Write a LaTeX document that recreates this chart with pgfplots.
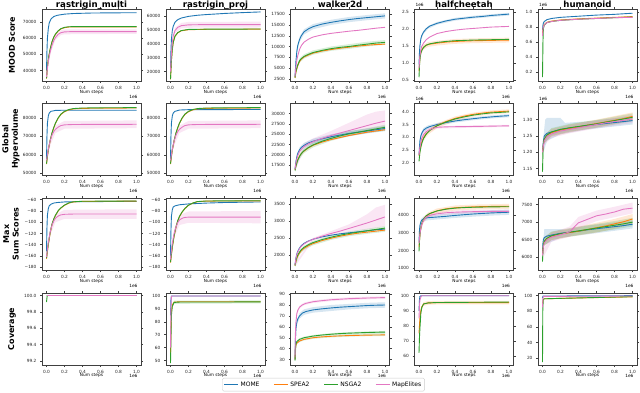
\documentclass[border=0pt]{standalone}
\usepackage{fontspec}
\setmainfont{DejaVu Sans}
\usepackage{pgfplots}
\pgfplotsset{compat=1.18}
\definecolor{cmome}{RGB}{31,119,180}
\definecolor{cspea}{RGB}{255,127,14}
\definecolor{cnsga}{RGB}{44,160,44}
\definecolor{cmap}{RGB}{227,119,194}
\newcommand\tl{\fontsize{4.3}{5}\selectfont}

\pgfplotsset{
  xoffy/.initial=-0.215,
  cell/.style={
    scale only axis, width=99pt, height=72pt, anchor=south west,
    xmin=-0.05, xmax=1.05,
    xtick={0,0.2,0.4,0.6,0.8,1}, xticklabels={0.0,0.2,0.4,0.6,0.8,1.0},
    scaled ticks=false,
    /pgf/number format/1000 sep={},
    /pgf/number format/assume math mode=true,
    tick label style={font=\tl, text=black!85},
    xlabel={Num steps},
    xlabel style={font=\tl, at={(axis description cs:0.5,0)}, anchor=center, yshift=-11.5pt},
    axis line style={black!75, line width=0.6pt},
    tick align=outside, major tick length=2pt,
    tick style={black!75, line width=0.4pt},
    clip mode=individual,
    every axis title shift=0pt,
    title style={font=\bfseries\fontsize{8.6}{9}\selectfont, anchor=base, at={(0.5,1)}, yshift=1.2pt},
    extra description/.code={\node[anchor=east, font=\tl] at (1,\pgfkeysvalueof{/pgfplots/xoffy}) {1e6};},
  },
  lastrow/.style={xoffy=-0.15, xlabel style={yshift=1pt}},
  yoff/.style={extra description/.append code={\node[anchor=west, font=\tl] at (-0.025,1.055) {1e6};}},
  mome/.style={color=cmome, line width=0.9pt},
  spea/.style={color=cspea, line width=0.9pt},
  nsga/.style={color=cnsga, line width=0.9pt},
  mape/.style={color=cmap, line width=0.9pt},
  band/.style={draw=none, fill=#1, fill opacity=0.18, forget plot},
}

\begin{document}
\begin{tikzpicture}
\path[use as bounding box] (0,0) rectangle (640pt,392pt);

% row labels
\node[rotate=90, font=\bfseries\fontsize{8}{9.5}\selectfont, align=center] at (12pt,347pt) {MOOD Score};
\node[rotate=90, font=\bfseries\fontsize{8}{9.5}\selectfont, align=center] at (11pt,253pt) {Global\\Hypervolume};
\node[rotate=90, font=\bfseries\fontsize{8}{9.5}\selectfont, align=center] at (11pt,158pt) {Max\\Sum Scores};
\node[rotate=90, font=\bfseries\fontsize{8}{9.5}\selectfont, align=center] at (12pt,63pt) {Coverage};

%% ================= ROW 1: MOOD Score =================
\begin{axis}[cell, at={(42pt,311pt)}, title={rastrigin\_multi},
  ymin=33500, ymax=78200, ytick={40000,50000,60000,70000}]
\addplot[band=cmap] coordinates {(0,37000)(0.02,46800)(0.05,55000)(0.1,62000)(0.16,65000)(0.2,65500)(1,65600)
  (1,62800)(0.2,62500)(0.16,62000)(0.1,59000)(0.05,51500)(0.02,44200)(0,35000)};
\addplot[mome] coordinates {(0,40000)(0.005,52000)(0.01,60000)(0.02,66000)(0.03,69500)(0.05,72000)(0.08,73500)(0.12,74300)(0.2,75000)(0.3,75400)(0.5,75700)(0.7,75800)(1,75900)};
\addplot[spea] coordinates {(0,35000)(0.01,42000)(0.02,47000)(0.04,53000)(0.06,57500)(0.08,60500)(0.1,62500)(0.13,64500)(0.16,65800)(0.2,66600)(0.25,67000)(0.4,67100)(1,67100)};
\addplot[nsga] coordinates {(0,35200)(0.01,42200)(0.02,47200)(0.04,53200)(0.06,57700)(0.08,60700)(0.1,62700)(0.13,64700)(0.16,66000)(0.2,66800)(0.25,67200)(0.4,67300)(1,67300)};
\addplot[mape] coordinates {(0,36000)(0.01,41000)(0.02,45500)(0.04,51500)(0.06,55500)(0.08,58500)(0.1,60500)(0.13,62500)(0.16,63500)(0.2,64000)(0.3,64200)(1,64200)};
\end{axis}

\begin{axis}[cell, at={(166pt,311pt)}, title={rastrigin\_proj},
  ymin=13200, ymax=65000, ytick={20000,30000,40000,50000,60000}]
\addplot[band=cmap] coordinates {(0,21000)(0.02,42500)(0.05,51500)(0.12,55000)(0.2,55700)(1,55900)
  (1,51700)(0.2,51500)(0.12,51000)(0.05,47500)(0.02,39500)(0,19000)};
\addplot[mome] coordinates {(0,21000)(0.005,35000)(0.01,43000)(0.02,49500)(0.03,52500)(0.05,55500)(0.08,57300)(0.12,58500)(0.2,59700)(0.3,60500)(0.4,61000)(0.6,61800)(0.8,62400)(1,62900)};
\addplot[spea] coordinates {(0,14300)(0.01,27800)(0.02,35800)(0.03,40800)(0.05,45300)(0.08,47800)(0.12,49300)(0.2,50100)(0.4,50400)(1,50500)};
\addplot[nsga] coordinates {(0,14500)(0.01,28000)(0.02,36000)(0.03,41000)(0.05,45500)(0.08,48000)(0.12,49500)(0.2,50300)(0.4,50500)(1,50600)};
\addplot[mape] coordinates {(0,20000)(0.01,33000)(0.02,41000)(0.03,45500)(0.05,49500)(0.08,51800)(0.12,53000)(0.2,53600)(0.4,53800)(1,53800)};
\end{axis}

\begin{axis}[cell, at={(290.5pt,311pt)}, title={walker2d},
  ymin=2000, ymax=18700, ytick={2500,5000,7500,10000,12500,15000,17500}]
\addplot[band=cmome] coordinates {(0,3200)(0.02,9400)(0.05,12200)(0.1,14000)(0.2,15200)(0.4,16200)(0.6,16850)(0.8,17300)(1,17700)
  (1,16500)(0.8,16100)(0.6,15650)(0.4,15000)(0.2,14000)(0.1,12800)(0.05,11000)(0.02,8200)(0,2800)};
\addplot[band=cnsga] coordinates {(0,3000)(0.02,5400)(0.05,7200)(0.1,8200)(0.2,9100)(0.4,10000)(0.6,10550)(0.8,11100)(1,11500)
  (1,10400)(0.8,10000)(0.6,9450)(0.4,9000)(0.2,8100)(0.1,7200)(0.05,6200)(0.02,4600)(0,2600)};
\addplot[mome] coordinates {(0,3000)(0.01,6500)(0.02,8800)(0.03,10200)(0.05,11600)(0.07,12500)(0.1,13400)(0.15,14100)(0.2,14600)(0.3,15200)(0.4,15600)(0.5,15950)(0.6,16250)(0.7,16500)(0.8,16700)(0.9,16900)(1,17100)};
\addplot[spea] coordinates {(0,2700)(0.01,4000)(0.02,4800)(0.03,5500)(0.05,6500)(0.07,7050)(0.1,7550)(0.15,8050)(0.2,8450)(0.3,8950)(0.4,9300)(0.5,9600)(0.6,9850)(0.7,10100)(0.8,10300)(0.9,10450)(1,10550)};
\addplot[nsga] coordinates {(0,2800)(0.01,4200)(0.02,5000)(0.03,5700)(0.05,6700)(0.07,7200)(0.1,7700)(0.15,8200)(0.2,8600)(0.3,9100)(0.4,9500)(0.5,9800)(0.6,10000)(0.7,10300)(0.8,10550)(0.9,10800)(1,10950)};
\addplot[mape] coordinates {(0,3000)(0.01,5300)(0.02,6800)(0.03,7800)(0.05,9300)(0.07,10200)(0.1,11000)(0.15,11700)(0.2,12200)(0.3,12700)(0.4,13050)(0.5,13300)(0.6,13550)(0.7,13750)(0.8,14000)(0.9,14250)(1,14450)};
\end{axis}

\begin{axis}[cell, yoff, at={(414.5pt,311pt)}, title={halfcheetah},
  ymin=0.47, ymax=2.58, ytick={0.5,1,1.5,2,2.5}, yticklabels={0.5,1.0,1.5,2.0,2.5}]
\addplot[band=cmome] coordinates {(0,1.0)(0.02,1.75)(0.05,1.95)(0.1,2.08)(0.2,2.2)(0.4,2.32)(0.6,2.38)(1,2.47)
  (1,2.39)(0.6,2.30)(0.4,2.24)(0.2,2.12)(0.1,2.0)(0.05,1.85)(0.02,1.65)(0,0.9)};
\addplot[band=cspea] coordinates {(0,0.8)(0.02,1.36)(0.05,1.53)(0.1,1.61)(0.2,1.65)(0.4,1.70)(0.6,1.72)(1,1.74)
  (1,1.60)(0.6,1.58)(0.4,1.56)(0.2,1.51)(0.1,1.47)(0.05,1.39)(0.02,1.24)(0,0.7)};
\addplot[mome] coordinates {(0,0.95)(0.005,1.3)(0.01,1.5)(0.02,1.7)(0.03,1.8)(0.05,1.9)(0.08,2.0)(0.12,2.08)(0.2,2.16)(0.3,2.23)(0.4,2.28)(0.5,2.31)(0.6,2.34)(0.7,2.36)(0.8,2.39)(0.9,2.41)(1,2.43)};
\addplot[spea] coordinates {(0,0.75)(0.01,1.15)(0.02,1.3)(0.03,1.38)(0.05,1.46)(0.08,1.52)(0.12,1.55)(0.2,1.58)(0.3,1.61)(0.4,1.63)(0.6,1.65)(0.8,1.66)(1,1.67)};
\addplot[nsga] coordinates {(0,0.58)(0.005,0.9)(0.01,1.1)(0.02,1.28)(0.03,1.36)(0.05,1.45)(0.08,1.52)(0.12,1.56)(0.2,1.6)(0.3,1.63)(0.4,1.65)(0.6,1.67)(0.8,1.68)(1,1.69)};
\addplot[mape] coordinates {(0,0.85)(0.01,1.2)(0.02,1.38)(0.03,1.48)(0.05,1.58)(0.08,1.68)(0.12,1.76)(0.2,1.86)(0.3,1.92)(0.4,1.96)(0.5,1.99)(0.6,2.01)(0.7,2.03)(0.8,2.05)(0.9,2.06)(1,2.07)};
\end{axis}

\begin{axis}[cell, yoff, at={(538pt,311pt)}, title={humanoid},
  ymin=0.079, ymax=1.036, ytick={0.2,0.4,0.6,0.8,1}, yticklabels={0.2,0.4,0.6,0.8,1.0}]
\addplot[mome] coordinates {(0,0.76)(0.005,0.82)(0.01,0.85)(0.02,0.87)(0.05,0.895)(0.1,0.91)(0.2,0.925)(0.4,0.94)(0.6,0.955)(0.8,0.965)(1,0.98)};
\addplot[spea] coordinates {(0,0.72)(0.01,0.8)(0.02,0.83)(0.05,0.86)(0.1,0.875)(0.2,0.89)(0.4,0.905)(0.6,0.915)(0.8,0.925)(1,0.935)};
\addplot[nsga] coordinates {(0,0.13)(0.005,0.6)(0.01,0.78)(0.02,0.82)(0.05,0.855)(0.1,0.87)(0.2,0.885)(0.4,0.9)(0.6,0.91)(0.8,0.92)(1,0.93)};
\addplot[mape] coordinates {(0,0.68)(0.005,0.76)(0.01,0.8)(0.02,0.825)(0.05,0.855)(0.1,0.87)(0.2,0.885)(0.4,0.9)(0.6,0.91)(0.8,0.92)(1,0.925)};
\end{axis}

%% ================= ROW 2: Global Hypervolume =================
\begin{axis}[cell, at={(42pt,217pt)},
  ymin=49100, ymax=88000, ytick={50000,60000,70000,80000}]
\addplot[band=cmap] coordinates {(0,58500)(0.02,64500)(0.05,70000)(0.1,75800)(0.2,78300)(1,78600)
  (1,74400)(0.2,74100)(0.1,71800)(0.05,66000)(0.02,61500)(0,55500)};
\addplot[mome] coordinates {(0,57000)(0.005,70000)(0.01,77000)(0.02,81000)(0.03,82500)(0.05,83500)(0.1,84000)(0.2,84100)(1,84100)};
\addplot[spea] coordinates {(0,55000)(0.01,59000)(0.02,62500)(0.04,67500)(0.06,71500)(0.08,74500)(0.1,77000)(0.13,79800)(0.16,81800)(0.2,83300)(0.25,84300)(0.3,84800)(0.4,85100)(0.6,85200)(1,85300)};
\addplot[nsga] coordinates {(0,55200)(0.01,59200)(0.02,62700)(0.04,67700)(0.06,71700)(0.08,74700)(0.1,77200)(0.13,80000)(0.16,82000)(0.2,83500)(0.25,84500)(0.3,85000)(0.4,85300)(0.6,85400)(1,85500)};
\addplot[mape] coordinates {(0,57000)(0.01,60000)(0.02,63000)(0.04,67500)(0.06,70500)(0.08,72500)(0.1,73800)(0.13,75000)(0.16,75800)(0.2,76200)(0.3,76400)(1,76500)};
\end{axis}

\begin{axis}[cell, at={(166pt,217pt)},
  ymin=49100, ymax=88000, ytick={50000,60000,70000,80000}]
\addplot[band=cmap] coordinates {(0,58500)(0.02,64500)(0.05,70000)(0.1,75800)(0.2,78300)(1,78600)
  (1,74400)(0.2,74100)(0.1,71800)(0.05,66000)(0.02,61500)(0,55500)};
\addplot[mome] coordinates {(0,57000)(0.005,70000)(0.01,77000)(0.02,81000)(0.03,82500)(0.05,83500)(0.1,84200)(0.2,84400)(1,84500)};
\addplot[spea] coordinates {(0,55000)(0.01,59000)(0.02,62500)(0.04,67500)(0.06,71500)(0.08,74500)(0.1,77000)(0.13,79800)(0.16,81800)(0.2,83300)(0.25,84300)(0.3,84800)(0.4,85100)(0.6,85200)(1,85300)};
\addplot[nsga] coordinates {(0,55200)(0.01,59200)(0.02,62700)(0.04,67700)(0.06,71700)(0.08,74700)(0.1,77200)(0.13,80000)(0.16,82000)(0.2,83500)(0.25,84500)(0.3,85000)(0.4,85300)(0.6,85400)(1,85500)};
\addplot[mape] coordinates {(0,57000)(0.01,60000)(0.02,63000)(0.04,67500)(0.06,70500)(0.08,72500)(0.1,73800)(0.13,75000)(0.16,75800)(0.2,76200)(0.3,76400)(1,76500)};
\end{axis}

\begin{axis}[cell, at={(290.5pt,217pt)},
  ymin=15100, ymax=32600, ytick={17500,20000,22500,25000,27500,30000}]
\addplot[band=cmap] coordinates {(0,17000)(0.1,22800)(0.2,24000)(0.4,25800)(0.6,27800)(0.8,29800)(0.9,30500)(1,30800)
  (1,26000)(0.8,25300)(0.6,24500)(0.4,23700)(0.2,22400)(0.1,21200)(0,16000)};
\addplot[band=cmome] coordinates {(0,16900)(0.02,20100)(0.05,21800)(0.1,22900)(0.2,23900)(0.4,25000)(0.6,25800)(0.8,26400)(1,27000)
  (1,25800)(0.8,25200)(0.6,24600)(0.4,23800)(0.2,22700)(0.1,21700)(0.05,20600)(0.02,18900)(0,16100)};
\addplot[band=cnsga] coordinates {(0,16600)(0.02,18600)(0.05,20200)(0.1,21600)(0.2,23000)(0.4,24600)(0.6,25700)(0.8,26500)(1,27300)
  (1,25800)(0.8,25300)(0.6,24500)(0.4,23400)(0.2,21800)(0.1,20400)(0.05,19000)(0.02,17400)(0,15800)};
\addplot[mome] coordinates {(0,16500)(0.01,18300)(0.02,19500)(0.03,20300)(0.05,21200)(0.07,21800)(0.1,22300)(0.15,22900)(0.2,23300)(0.3,23900)(0.4,24400)(0.5,24800)(0.6,25200)(0.7,25500)(0.8,25800)(0.9,26100)(1,26400)};
\addplot[spea] coordinates {(0,16300)(0.01,17300)(0.02,18100)(0.03,18800)(0.05,19700)(0.07,20300)(0.1,20900)(0.15,21700)(0.2,22300)(0.3,23100)(0.4,23700)(0.5,24200)(0.6,24700)(0.7,25100)(0.8,25500)(0.9,25800)(1,26100)};
\addplot[nsga] coordinates {(0,16200)(0.01,17200)(0.02,18000)(0.03,18700)(0.05,19600)(0.07,20300)(0.1,21000)(0.15,21800)(0.2,22400)(0.3,23300)(0.4,24000)(0.5,24600)(0.6,25100)(0.7,25500)(0.8,25900)(0.9,26300)(1,26700)};
\addplot[mape] coordinates {(0,16500)(0.01,18000)(0.02,19000)(0.03,19800)(0.05,20800)(0.07,21400)(0.1,22000)(0.15,22700)(0.2,23200)(0.3,24000)(0.4,24700)(0.5,25300)(0.6,25900)(0.7,26500)(0.8,27100)(0.9,27700)(1,28200)};
\end{axis}

\begin{axis}[cell, yoff, at={(414.5pt,217pt)},
  ymin=1.51, ymax=4.35, ytick={2,2.5,3,3.5,4}, yticklabels={2.0,2.5,3.0,3.5,4.0}]
\addplot[band=cmap] coordinates {(0,2.45)(0.02,3.0)(0.05,3.25)(0.1,3.37)(0.2,3.44)(1,3.49)
  (1,3.41)(0.2,3.34)(0.1,3.2)(0.05,2.95)(0.02,2.6)(0,2.15)};
\addplot[band=cmome] coordinates {(0,2.4)(0.02,3.15)(0.05,3.36)(0.1,3.47)(0.2,3.56)(0.4,3.7)(0.6,3.79)(0.8,3.86)(1,3.91)
  (1,3.79)(0.8,3.74)(0.6,3.67)(0.4,3.58)(0.2,3.44)(0.1,3.33)(0.05,3.2)(0.02,2.95)(0,2.2)};
\addplot[band=cspea] coordinates {(0,2.35)(0.02,2.76)(0.05,3.06)(0.1,3.3)(0.2,3.54)(0.4,3.82)(0.6,3.97)(0.8,4.06)(1,4.1)
  (1,3.95)(0.8,3.9)(0.6,3.81)(0.4,3.64)(0.2,3.36)(0.1,3.1)(0.05,2.86)(0.02,2.5)(0,1.95)};
\addplot[mome] coordinates {(0,2.3)(0.005,2.6)(0.01,2.85)(0.02,3.05)(0.03,3.15)(0.05,3.28)(0.08,3.36)(0.12,3.42)(0.2,3.5)(0.3,3.58)(0.4,3.64)(0.5,3.69)(0.6,3.73)(0.7,3.77)(0.8,3.8)(0.9,3.83)(1,3.85)};
\addplot[spea] coordinates {(0,2.25)(0.01,2.5)(0.02,2.68)(0.03,2.8)(0.05,2.98)(0.08,3.14)(0.12,3.28)(0.2,3.46)(0.3,3.62)(0.4,3.74)(0.5,3.83)(0.6,3.9)(0.7,3.95)(0.8,3.99)(0.9,4.01)(1,4.03)};
\addplot[nsga] coordinates {(0,2.05)(0.01,2.4)(0.02,2.6)(0.03,2.75)(0.05,2.95)(0.08,3.12)(0.12,3.27)(0.2,3.45)(0.3,3.6)(0.4,3.72)(0.5,3.8)(0.6,3.87)(0.7,3.92)(0.8,3.96)(0.9,3.98)(1,4.0)};
\addplot[mape] coordinates {(0,2.3)(0.01,2.6)(0.02,2.8)(0.03,2.95)(0.05,3.1)(0.08,3.22)(0.12,3.3)(0.16,3.36)(0.2,3.39)(0.3,3.41)(0.5,3.42)(0.7,3.43)(1,3.45)};
\end{axis}

\begin{axis}[cell, yoff, at={(538pt,217pt)},
  ymin=1.13, ymax=1.351, ytick={1.15,1.2,1.25,1.3}, yticklabels={1.15,1.20,1.25,1.30}]
\addplot[band=cmome] coordinates {(0,1.22)(0.03,1.3)(0.05,1.305)(0.2,1.305)(0.25,1.29)(0.5,1.295)(1,1.31)
  (1,1.285)(0.5,1.27)(0.2,1.255)(0.05,1.235)(0,1.19)};
\addplot[band=cspea] coordinates {(0,1.21)(0.02,1.252)(0.1,1.272)(0.3,1.285)(0.6,1.3)(1,1.322)
  (1,1.298)(0.6,1.276)(0.3,1.261)(0.1,1.248)(0.02,1.228)(0,1.19)};
\addplot[band=cnsga] coordinates {(0,1.15)(0.02,1.252)(0.1,1.274)(0.3,1.287)(0.6,1.299)(1,1.319)
  (1,1.295)(0.6,1.275)(0.3,1.263)(0.1,1.25)(0.02,1.228)(0,1.135)};
\addplot[band=cmap] coordinates {(0,1.21)(0.02,1.247)(0.1,1.268)(0.3,1.282)(0.6,1.297)(1,1.314)
  (1,1.29)(0.6,1.273)(0.3,1.258)(0.1,1.244)(0.02,1.223)(0,1.19)};
\addplot[mome] coordinates {(0,1.205)(0.005,1.22)(0.01,1.235)(0.02,1.25)(0.05,1.258)(0.1,1.262)(0.2,1.27)(0.3,1.274)(0.4,1.278)(0.5,1.282)(0.6,1.285)(0.7,1.288)(0.8,1.291)(0.9,1.294)(1,1.297)};
\addplot[spea] coordinates {(0,1.2)(0.01,1.225)(0.02,1.24)(0.05,1.252)(0.1,1.26)(0.2,1.268)(0.3,1.273)(0.4,1.278)(0.5,1.283)(0.6,1.288)(0.7,1.293)(0.8,1.298)(0.9,1.303)(1,1.31)};
\addplot[nsga] coordinates {(0,1.14)(0.005,1.2)(0.01,1.225)(0.02,1.24)(0.05,1.253)(0.1,1.262)(0.2,1.27)(0.3,1.275)(0.4,1.279)(0.5,1.283)(0.6,1.287)(0.7,1.292)(0.8,1.297)(0.9,1.302)(1,1.307)};
\addplot[mape] coordinates {(0,1.2)(0.01,1.22)(0.02,1.235)(0.05,1.248)(0.1,1.256)(0.2,1.265)(0.3,1.27)(0.4,1.275)(0.5,1.28)(0.6,1.285)(0.7,1.29)(0.8,1.294)(0.9,1.298)(1,1.302)};
\end{axis}

%% ================= ROW 3: Max Sum Scores =================
\begin{axis}[cell, at={(42pt,122pt)},
  ymin=-185, ymax=-57, ytick={-180,-160,-140,-120,-100,-80,-60},
  yticklabels={−180,−160,−140,−120,−100,−80,−60}]
\addplot[band=cmap] coordinates {(0,-158)(0.04,-112)(0.1,-86)(0.2,-78)(1,-77)
  (1,-94)(0.2,-94)(0.1,-100)(0.04,-124)(0,-166)};
\addplot[mome] coordinates {(0,-152)(0.005,-110)(0.01,-88)(0.02,-76)(0.03,-71)(0.05,-68)(0.08,-66)(0.12,-65)(0.2,-64)(0.4,-63.5)(1,-63)};
\addplot[spea] coordinates {(0,-165)(0.01,-152)(0.02,-140)(0.04,-120)(0.06,-105)(0.08,-95)(0.1,-88)(0.13,-80)(0.16,-75)(0.2,-70)(0.25,-66)(0.3,-64)(0.4,-63)(1,-62.5)};
\addplot[nsga] coordinates {(0,-164)(0.01,-151)(0.02,-139)(0.04,-119)(0.06,-104)(0.08,-94.5)(0.1,-87.5)(0.13,-79.5)(0.16,-74.5)(0.2,-69.5)(0.25,-65.5)(0.3,-63.7)(0.4,-62.8)(1,-62.3)};
\addplot[mape] coordinates {(0,-162)(0.01,-148)(0.02,-136)(0.04,-118)(0.06,-106)(0.08,-98)(0.1,-93)(0.13,-89)(0.16,-87)(0.2,-86)(0.3,-85.5)(1,-85.5)};
\end{axis}

\begin{axis}[cell, at={(166pt,122pt)},
  ymin=-185, ymax=-57, ytick={-180,-160,-140,-120,-100,-80,-60},
  yticklabels={−180,−160,−140,−120,−100,−80,−60}]
\addplot[band=cmap] coordinates {(0,-160)(0.04,-113)(0.1,-87)(0.2,-81)(1,-80)
  (1,-102)(0.2,-101)(0.1,-105)(0.04,-127)(0,-172)};
\addplot[mome] coordinates {(0,-160)(0.005,-115)(0.01,-90)(0.02,-78)(0.03,-73)(0.05,-71)(0.1,-69)(0.2,-67.5)(0.4,-66)(0.6,-65)(1,-64)};
\addplot[spea] coordinates {(0,-172)(0.01,-158)(0.02,-145)(0.04,-125)(0.06,-110)(0.08,-98)(0.1,-90)(0.13,-82)(0.16,-76)(0.2,-70)(0.25,-66)(0.3,-63.5)(0.4,-62.5)(1,-62)};
\addplot[nsga] coordinates {(0,-171)(0.01,-157)(0.02,-144)(0.04,-124)(0.06,-109)(0.08,-97.5)(0.1,-89.5)(0.13,-81.5)(0.16,-75.5)(0.2,-69.7)(0.25,-65.8)(0.3,-63.3)(0.4,-62.3)(1,-61.8)};
\addplot[mape] coordinates {(0,-166)(0.01,-150)(0.02,-138)(0.04,-120)(0.06,-109)(0.08,-101)(0.1,-96)(0.13,-93)(0.16,-91.5)(0.2,-91)(1,-91)};
\end{axis}

\begin{axis}[cell, at={(290.5pt,122pt)},
  ymin=1550, ymax=3680, ytick={2000,2500,3000,3500}]
\addplot[band=cmap] coordinates {(0,1750)(0.2,2500)(0.4,2700)(0.6,2900)(0.8,3200)(0.9,3400)(1,3480)
  (1,2850)(0.8,2750)(0.6,2680)(0.4,2560)(0.2,2420)(0,1650)};
\addplot[band=cnsga] coordinates {(0,1720)(0.05,2130)(0.1,2270)(0.2,2410)(0.4,2570)(0.6,2690)(0.8,2770)(1,2850)
  (1,2680)(0.8,2620)(0.6,2550)(0.4,2440)(0.2,2280)(0.1,2140)(0.05,2000)(0,1640)};
\addplot[mome] coordinates {(0,1700)(0.01,1900)(0.02,2020)(0.03,2100)(0.05,2200)(0.07,2270)(0.1,2340)(0.15,2410)(0.2,2460)(0.3,2530)(0.4,2580)(0.5,2620)(0.6,2650)(0.7,2680)(0.8,2710)(0.9,2740)(1,2760)};
\addplot[spea] coordinates {(0,1680)(0.01,1800)(0.02,1890)(0.03,1960)(0.05,2050)(0.07,2120)(0.1,2190)(0.15,2270)(0.2,2330)(0.3,2420)(0.4,2490)(0.5,2550)(0.6,2600)(0.7,2640)(0.8,2670)(0.9,2700)(1,2730)};
\addplot[nsga] coordinates {(0,1680)(0.01,1820)(0.02,1920)(0.03,1990)(0.05,2080)(0.07,2150)(0.1,2220)(0.15,2300)(0.2,2360)(0.3,2450)(0.4,2520)(0.5,2580)(0.6,2630)(0.7,2670)(0.8,2710)(0.9,2750)(1,2790)};
\addplot[mape] coordinates {(0,1700)(0.01,1880)(0.02,2000)(0.03,2080)(0.05,2180)(0.07,2250)(0.1,2320)(0.15,2400)(0.2,2460)(0.3,2550)(0.4,2630)(0.5,2700)(0.6,2780)(0.7,2860)(0.8,2940)(0.9,3030)(1,3120)};
\end{axis}

\begin{axis}[cell, at={(414.5pt,122pt)},
  ymin=900, ymax=4950, ytick={1000,2000,3000,4000}]
\addplot[band=cmome] coordinates {(0,2700)(0.02,3750)(0.05,3900)(0.1,3980)(0.2,4020)(0.4,4110)(0.6,4200)(0.8,4260)(1,4300)
  (1,4000)(0.8,3960)(0.6,3900)(0.4,3830)(0.2,3740)(0.1,3700)(0.05,3650)(0.02,3450)(0,2300)};
\addplot[band=cspea] coordinates {(0,2300)(0.02,3400)(0.05,3880)(0.1,4130)(0.2,4360)(0.4,4530)(0.6,4580)(0.8,4600)(1,4620)
  (1,4340)(0.8,4320)(0.6,4300)(0.4,4250)(0.2,4080)(0.1,3870)(0.05,3580)(0.02,3100)(0,1850)};
\addplot[band=cmap] coordinates {(0,2550)(0.02,3400)(0.05,3850)(0.1,4080)(0.2,4160)(0.4,4250)(0.6,4280)(1,4300)
  (1,4100)(0.6,4080)(0.4,4050)(0.2,3960)(0.1,3850)(0.05,3550)(0.02,3100)(0,2250)};
\addplot[mome] coordinates {(0,2500)(0.005,3100)(0.01,3400)(0.02,3600)(0.03,3700)(0.05,3780)(0.08,3830)(0.12,3850)(0.2,3880)(0.3,3920)(0.4,3970)(0.5,4010)(0.6,4050)(0.7,4080)(0.8,4110)(0.9,4130)(1,4150)};
\addplot[spea] coordinates {(0,2200)(0.01,2900)(0.02,3250)(0.03,3480)(0.05,3730)(0.08,3930)(0.12,4070)(0.2,4230)(0.3,4340)(0.4,4400)(0.5,4430)(0.6,4450)(0.7,4465)(0.8,4475)(0.9,4480)(1,4485)};
\addplot[nsga] coordinates {(0,1950)(0.005,2500)(0.01,2850)(0.02,3250)(0.03,3500)(0.05,3750)(0.08,3950)(0.12,4080)(0.2,4220)(0.3,4320)(0.4,4380)(0.5,4410)(0.6,4430)(0.7,4440)(0.8,4450)(0.9,4455)(1,4460)};
\addplot[mape] coordinates {(0,2400)(0.01,2900)(0.02,3250)(0.03,3450)(0.05,3700)(0.08,3880)(0.12,3980)(0.2,4060)(0.3,4120)(0.4,4150)(0.5,4170)(0.6,4180)(0.8,4195)(1,4200)};
\end{axis}

\begin{axis}[cell, at={(538pt,122pt)},
  ymin=5630, ymax=7690, ytick={6000,6500,7000,7500}]
\addplot[band=cmome] coordinates {(0,6250)(0.02,6800)(0.2,6800)(0.25,6780)(0.5,6900)(1,7050)
  (1,6820)(0.5,6650)(0.2,6550)(0.02,6350)(0,6050)};
\addplot[band=cspea] coordinates {(0,6200)(0.02,6570)(0.1,6720)(0.3,6820)(0.6,6980)(0.8,7090)(1,7230)
  (1,6950)(0.8,6810)(0.6,6700)(0.3,6580)(0.1,6480)(0.02,6330)(0,6000)};
\addplot[band=cnsga] coordinates {(0,5950)(0.02,6570)(0.1,6730)(0.3,6830)(0.6,6950)(0.8,7030)(1,7120)
  (1,6880)(0.8,6790)(0.6,6710)(0.3,6590)(0.1,6490)(0.02,6330)(0,5800)};
\addplot[band=cmap] coordinates {(0,6150)(0.1,6700)(0.3,6870)(0.4,7150)(0.6,7330)(0.8,7440)(1,7560)
  (1,7250)(0.8,7140)(0.6,7030)(0.4,6820)(0.3,6580)(0.1,6440)(0,5950)};
\addplot[mome] coordinates {(0,6150)(0.005,6400)(0.01,6500)(0.02,6560)(0.05,6600)(0.1,6630)(0.2,6680)(0.3,6710)(0.4,6740)(0.5,6780)(0.6,6810)(0.7,6840)(0.8,6870)(0.9,6900)(1,6940)};
\addplot[spea] coordinates {(0,6100)(0.01,6350)(0.02,6450)(0.05,6530)(0.1,6600)(0.2,6660)(0.3,6700)(0.4,6740)(0.5,6790)(0.6,6840)(0.7,6890)(0.8,6950)(0.9,7010)(1,7090)};
\addplot[nsga] coordinates {(0,5870)(0.005,6200)(0.01,6350)(0.02,6450)(0.05,6540)(0.1,6610)(0.2,6670)(0.3,6710)(0.4,6750)(0.5,6790)(0.6,6830)(0.7,6870)(0.8,6910)(0.9,6950)(1,7000)};
\addplot[mape] coordinates {(0,6050)(0.01,6300)(0.02,6400)(0.05,6500)(0.1,6570)(0.2,6640)(0.3,6720)(0.35,6850)(0.4,6980)(0.5,7080)(0.6,7180)(0.7,7230)(0.8,7290)(0.9,7370)(1,7400)};
\end{axis}

%% ================= ROW 4: Coverage =================
\begin{axis}[cell, lastrow, at={(42pt,27pt)},
  ymin=99.15, ymax=100.03, ytick={99.2,99.4,99.6,99.8,100}, yticklabels={99.2,99.4,99.6,99.8,100.0}]
\addplot[mome] coordinates {(0,100)(1,100)};
\addplot[spea] coordinates {(0,100)(1,100)};
\addplot[nsga] coordinates {(0,99.92)(0.008,100)(1,100)};
\addplot[mape] coordinates {(0,100)(1,100)};
\end{axis}

\begin{axis}[cell, lastrow, at={(166pt,27pt)},
  ymin=46.5, ymax=102.3, ytick={50,60,70,80,90,100}]
\addplot[band=cnsga] coordinates {(0,50)(0.01,87)(0.02,93.5)(0.04,96.3)(1,96.6)
  (1,94.3)(0.04,93.9)(0.02,91)(0.01,84)(0,47)};
\addplot[mome] coordinates {(0,85)(0.005,97)(0.01,100)(1,100)};
\addplot[spea] coordinates {(0,55)(0.01,88)(0.02,93)(0.04,95.2)(0.1,95.5)(1,95.5)};
\addplot[nsga] coordinates {(0,48)(0.01,85)(0.02,92)(0.04,95)(0.1,95.3)(1,95.4)};
\addplot[mape] coordinates {(0,60)(0.005,90)(0.01,99.5)(0.02,100)(1,100)};
\end{axis}

\begin{axis}[cell, lastrow, at={(414.5pt,27pt)},
  ymin=54, ymax=101.8, ytick={60,70,80,90,100}]
\addplot[band=cspea] coordinates {(0,77)(0.01,86.5)(0.02,91.2)(0.05,95.7)(0.1,96.4)(0.2,96.6)(1,96.6)
  (1,94.2)(0.2,94.2)(0.1,94)(0.05,93.3)(0.02,88.8)(0,73)};
\addplot[mome] coordinates {(0,90)(0.005,97)(0.01,99.5)(0.02,100)(1,100)};
\addplot[spea] coordinates {(0,75)(0.01,85)(0.02,90)(0.03,92.5)(0.05,94.5)(0.1,95.2)(0.2,95.4)(1,95.4)};
\addplot[nsga] coordinates {(0,62)(0.005,72)(0.01,78)(0.02,88)(0.03,92)(0.05,94.5)(0.1,95.2)(0.2,95.5)(1,95.8)};
\addplot[mape] coordinates {(0,85)(0.005,93)(0.01,97)(0.02,99)(0.03,100)(1,100)};
\end{axis}

\begin{axis}[cell, lastrow, at={(538pt,27pt)},
  ymin=11.4, ymax=103.4, ytick={20,40,60,80,100}]
\addplot[mome] coordinates {(0,97)(0.005,99.5)(1,100)};
\addplot[spea] coordinates {(0,90)(0.01,95.5)(0.02,96)(0.2,96.5)(0.5,97.3)(0.8,98)(1,98.5)};
\addplot[nsga] coordinates {(0,15)(0.003,80)(0.008,95)(0.02,96)(0.2,96.6)(0.5,97.4)(0.8,98.2)(1,98.7)};
\addplot[mape] coordinates {(0,85)(0.005,97)(0.01,99)(1,99.6)};
\end{axis}

% walker2d coverage last, so that its legend sits on top
\begin{axis}[cell, lastrow, at={(290.5pt,27pt)},
  ymin=25, ymax=91, ytick={30,40,50,60,70,80,90},
  legend style={at={(0.333,-0.272)}, anchor=center, draw=black!20, rounded corners=1.5pt,
    fill=white, fill opacity=0.85, text opacity=1, draw opacity=1,
    font=\fontsize{6}{7}\selectfont, legend columns=4, inner sep=1.5pt,
    /tikz/every even column/.append style={column sep=12pt}},
  legend image code/.code={\draw[#1, fill opacity=1, draw opacity=1] (0pt,0pt) -- (14pt,0pt);}]
\addplot[band=cmome] coordinates {(0,31)(0.02,66)(0.05,72.5)(0.1,76)(0.2,78)(0.4,80)(0.6,81)(0.8,82)(1,82.5)
  (1,77.5)(0.8,77)(0.6,76)(0.4,74.5)(0.2,73)(0.1,71)(0.05,67.5)(0.02,62)(0,29)};
\addplot[band=cmap] coordinates {(0,33)(0.02,73.5)(0.05,79.3)(0.1,82.2)(0.2,84.2)(0.4,86)(0.6,87)(0.8,87.6)(1,88)
  (1,85.6)(0.8,85.2)(0.6,84.6)(0.4,83.6)(0.2,81.8)(0.1,79.8)(0.05,76.7)(0.02,70.5)(0,31)};
\addplot[band=cnsga] coordinates {(0,30)(0.02,47.5)(0.05,49.5)(0.1,51)(0.2,52.5)(0.4,54.2)(0.6,55.2)(0.8,55.8)(1,56.2)
  (1,51.6)(0.8,51.4)(0.6,51)(0.4,50.3)(0.2,49)(0.1,47.5)(0.05,46)(0.02,44)(0,29)};
\addplot[mome] coordinates {(0,30)(0.005,50)(0.01,58)(0.02,64)(0.03,67)(0.05,70)(0.08,72.5)(0.12,74)(0.2,75.5)(0.3,76.5)(0.4,77.3)(0.5,78)(0.6,78.5)(0.7,79)(0.8,79.5)(0.9,79.8)(1,80)};
\addlegendentry{MOME}
\addplot[spea] coordinates {(0,30)(0.005,40)(0.01,43)(0.02,45)(0.05,47)(0.1,48.5)(0.2,50)(0.3,50.8)(0.4,51.3)(0.5,51.7)(0.6,52)(0.7,52.2)(0.8,52.4)(0.9,52.5)(1,52.6)};
\addlegendentry{SPEA2}
\addplot[nsga] coordinates {(0,29)(0.005,40)(0.01,44)(0.02,46.5)(0.05,48.5)(0.1,50)(0.2,51.5)(0.3,52.5)(0.4,53.2)(0.5,53.8)(0.6,54.2)(0.7,54.5)(0.8,54.8)(0.9,55)(1,55.2)};
\addlegendentry{NSGA2}
\addplot[mape] coordinates {(0,32)(0.005,55)(0.01,64)(0.02,72)(0.03,75)(0.05,78)(0.08,80)(0.12,81.5)(0.2,83)(0.3,84)(0.4,84.8)(0.5,85.3)(0.6,85.8)(0.7,86.1)(0.8,86.4)(0.9,86.6)(1,86.8)};
\addlegendentry{MapElites}
\end{axis}

\end{tikzpicture}
\end{document}
